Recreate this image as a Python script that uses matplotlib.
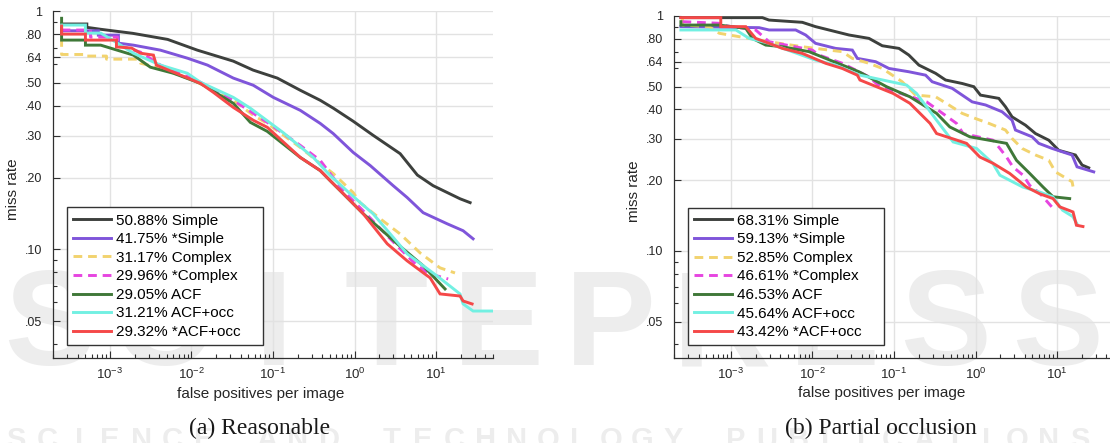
import numpy as np
import matplotlib
matplotlib.use("Agg")
import matplotlib.pyplot as plt
from matplotlib.ticker import FixedLocator, LogLocator, NullFormatter, LogFormatterMathtext

plt.rcParams['font.family'] = ['Liberation Sans', 'DejaVu Sans']
plt.rcParams['mathtext.default'] = 'regular'

#nomes dos detectores e log-average miss rate (%)
nomes = ['Simple', '*Simple', 'Complex', '*Complex', 'ACF', 'ACF+occ', '*ACF+occ']
lamr_a = [50.88, 41.75, 31.17, 29.96, 29.05, 31.21, 29.32]
lamr_b = [68.31, 59.13, 52.85, 46.61, 46.53, 45.64, 43.42]

#eixo y
yticks = [0.05, 0.10, 0.20, 0.30, 0.40, 0.50, 0.64, 0.80, 1.0]
yticklabels = ['.05', '.10', '.20', '.30', '.40', '.50', '.64', '.80', '1']
xticks = [1e-3, 1e-2, 1e-1, 1e0, 1e1]

#(a) Reasonable -- fppi / miss rate
fp_a_simple = [2.55e-4, 5.2e-4, 5.2e-4, 7.7e-4, 1.9e-3, 5.1e-3, 0.0118, 0.0326, 0.057, 0.113, 0.216, 0.38, 0.55, 0.96, 1.69, 3.63, 5.9, 9.2, 19.7, 26.2]
mr_a_simple = [0.882, 0.882, 0.854, 0.838, 0.806, 0.760, 0.685, 0.616, 0.565, 0.523, 0.465, 0.422, 0.391, 0.345, 0.301, 0.252, 0.205, 0.185, 0.163, 0.157]

fp_a_simple2 = [2.55e-4, 7.2e-4, 7.2e-4, 1.27e-3, 1.27e-3, 1.94e-3, 4.16e-3, 8.9e-3, 0.0157, 0.0326, 0.0573, 0.101, 0.216, 0.38, 0.548, 0.964, 1.56, 2.98, 4.42, 6.95, 13.7, 21.5, 28.5]
mr_a_simple2 = [0.826, 0.826, 0.792, 0.792, 0.733, 0.719, 0.685, 0.634, 0.593, 0.523, 0.488, 0.434, 0.383, 0.3375, 0.306, 0.255, 0.2246, 0.185, 0.165, 0.1425, 0.128, 0.1197, 0.1107]

fp_a_complex = [2.55e-4, 2.55e-4, 5.0e-4, 5.0e-4, 9.06e-4, 9.06e-4, 2.24e-3, 2.37e-3, 4.16e-3, 0.0105, 0.0326, 0.0573, 0.0851, 0.216, 0.38, 0.548, 0.964, 1.17, 2.07, 3.63, 6.38, 11.2, 17.1]
mr_a_complex = [0.770, 0.657, 0.657, 0.647, 0.647, 0.628, 0.628, 0.604, 0.575, 0.512, 0.422, 0.365, 0.3375, 0.2676, 0.229, 0.208, 0.173, 0.157, 0.1343, 0.116, 0.0966, 0.0836, 0.0796]

fp_a_complex2 = [2.55e-4, 5.77e-4, 5.77e-4, 1.24e-3, 1.24e-3, 2.37e-3, 4.16e-3, 0.0129, 0.0326, 0.0573, 0.0851, 0.216, 0.38, 0.727, 1.28, 2.74, 5.87, 8.47, 14.1]
mr_a_complex2 = [0.832, 0.832, 0.777, 0.777, 0.719, 0.672, 0.593, 0.502, 0.422, 0.372, 0.341, 0.273, 0.236, 0.176, 0.145, 0.1107, 0.0853, 0.0788, 0.0751]

fp_a_acf = [2.55e-4, 2.55e-4, 5.0e-4, 5.0e-4, 7.7e-4, 1.94e-3, 3.13e-3, 6.0e-3, 0.0129, 0.0326, 0.0527, 0.0851, 0.216, 0.38, 0.504, 1.28, 3.34, 6.95, 12.9]
mr_a_acf = [0.932, 0.755, 0.755, 0.719, 0.719, 0.653, 0.581, 0.548, 0.497, 0.410, 0.341, 0.3125, 0.243, 0.214, 0.194, 0.141, 0.1055, 0.0853, 0.0682]

fp_a_occ = [2.55e-4, 5.0e-4, 5.0e-4, 7.7e-4, 1.24e-3, 1.94e-3, 4.16e-3, 8.9e-3, 0.0129, 0.0326, 0.0527, 0.133, 0.312, 0.504, 0.886, 1.69, 4.42, 10.3, 19.7, 21.5, 28.5, 48.7]
mr_a_occ = [0.873, 0.873, 0.808, 0.808, 0.733, 0.665, 0.593, 0.548, 0.502, 0.434, 0.391, 0.309, 0.243, 0.204, 0.171, 0.141, 0.0958, 0.0773, 0.065, 0.059, 0.0551, 0.0551]

fp_a_occ2 = [2.55e-4, 2.55e-4, 5.0e-4, 5.0e-4, 1.2e-3, 1.2e-3, 1.84e-3, 2.37e-3, 3.41e-3, 3.71e-3, 6.0e-3, 0.0129, 0.0185, 0.0326, 0.0573, 0.0851, 0.216, 0.38, 0.504, 0.727, 1.28, 2.52, 4.42, 8.47, 11.2, 19.7, 21.5, 27.7]
mr_a_occ2 = [0.865, 0.800, 0.800, 0.755, 0.755, 0.707, 0.699, 0.665, 0.653, 0.593, 0.554, 0.497, 0.456, 0.394, 0.348, 0.325, 0.243, 0.214, 0.194, 0.1714, 0.141, 0.1055, 0.0895, 0.0759, 0.065, 0.0637, 0.0607, 0.059]

#(b) Partial occlusion -- fppi / miss rate
fp_b_simple = [2.43e-4, 2.43e-3, 2.93e-3, 7.5e-3, 0.0109, 0.0159, 0.0281, 0.0493, 0.0718, 0.115, 0.152, 0.202, 0.324, 0.429, 0.687, 0.954, 1.15, 1.93, 2.33, 2.81, 4.10, 5.44, 7.92, 10.5, 16.8, 20.3, 24.5]
mr_b_simple = [0.984, 0.984, 0.961, 0.940, 0.901, 0.872, 0.830, 0.803, 0.747, 0.728, 0.682, 0.618, 0.570, 0.534, 0.516, 0.500, 0.4605, 0.446, 0.411, 0.372, 0.343, 0.316, 0.296, 0.268, 0.256, 0.232, 0.2257]

fp_b_simple2 = [2.43e-4, 2.21e-3, 2.93e-3, 6.22e-3, 8.25e-3, 0.0109, 0.0192, 0.0308, 0.0355, 0.0595, 0.0867, 0.152, 0.244, 0.294, 0.518, 0.687, 0.91, 1.33, 2.12, 2.81, 3.09, 4.95, 5.97, 8.70, 15.3, 17.6, 28.2]
mr_b_simple2 = [0.901, 0.892, 0.872, 0.872, 0.830, 0.765, 0.728, 0.716, 0.660, 0.639, 0.598, 0.579, 0.560, 0.525, 0.492, 0.4605, 0.431, 0.418, 0.391, 0.360, 0.327, 0.306, 0.287, 0.273, 0.256, 0.228, 0.217]

fp_b_complex = [2.54e-4, 2.54e-4, 5.4e-4, 7.2e-4, 1.67e-3, 2.93e-3, 7.5e-3, 0.0159, 0.0232, 0.0308, 0.0493, 0.0718, 0.0953, 0.126, 0.184, 0.324, 0.471, 0.687, 1.0, 1.46, 2.33, 2.81, 3.73, 5.44, 7.92, 9.55, 15.3, 15.7]
mr_b_complex = [0.977, 0.915, 0.901, 0.844, 0.803, 0.777, 0.740, 0.716, 0.705, 0.660, 0.629, 0.598, 0.560, 0.525, 0.4605, 0.453, 0.418, 0.385, 0.366, 0.349, 0.327, 0.301, 0.273, 0.256, 0.243, 0.217, 0.197, 0.188]

fp_b_complex2 = [2.54e-4, 7.15e-4, 8.6e-4, 2.01e-3, 2.93e-3, 9.95e-3, 0.0120, 0.0232, 0.0492, 0.0672, 0.251, 0.585, 0.705, 1.64, 1.99, 2.40, 2.87, 3.83, 4.63, 6.14, 9.37]
mr_b_complex2 = [0.946, 0.931, 0.909, 0.872, 0.777, 0.716, 0.682, 0.629, 0.551, 0.500, 0.431, 0.349, 0.316, 0.296, 0.273, 0.251, 0.228, 0.210, 0.190, 0.176, 0.149]

fp_b_acf = [2.43e-4, 2.43e-4, 7.15e-4, 1.52e-3, 1.83e-3, 2.67e-3, 4.27e-3, 9.06e-3, 0.0145, 0.0372, 0.0811, 0.1566, 0.333, 0.484, 0.851, 2.40, 3.18, 4.63, 6.74, 8.93, 14.3]
mr_b_acf = [0.946, 0.915, 0.915, 0.886, 0.803, 0.752, 0.740, 0.705, 0.660, 0.579, 0.500, 0.453, 0.385, 0.337, 0.306, 0.287, 0.243, 0.2136, 0.187, 0.170, 0.167]

fp_b_occ = [2.43e-4, 1.15e-3, 1.67e-3, 2.93e-3, 0.0109, 0.0192, 0.0382, 0.1427, 0.189, 0.251, 0.333, 0.531, 1.03, 1.63, 1.99, 3.80, 6.14, 8.86, 11.7, 15.6, 17.9]
mr_b_occ = [0.872, 0.872, 0.803, 0.765, 0.649, 0.618, 0.560, 0.508, 0.468, 0.411, 0.360, 0.291, 0.273, 0.236, 0.210, 0.187, 0.178, 0.170, 0.149, 0.140, 0.129]

fp_b_occ2 = [2.43e-4, 7.5e-4, 7.5e-4, 1.52e-3, 2.01e-3, 2.93e-3, 4.27e-3, 7.5e-3, 0.0145, 0.0232, 0.0355, 0.0382, 0.0977, 0.1566, 0.277, 0.333, 0.776, 1.13, 1.64, 2.63, 4.22, 6.14, 8.93, 10.8, 15.7, 17.3, 20.8]
mr_b_occ2 = [0.984, 0.984, 0.901, 0.901, 0.803, 0.765, 0.728, 0.693, 0.629, 0.598, 0.560, 0.534, 0.468, 0.425, 0.349, 0.316, 0.287, 0.251, 0.236, 0.2136, 0.187, 0.175, 0.167, 0.154, 0.1465, 0.1286, 0.127]

#marca d'agua da editora (fundo)
marca = 'SCITEPRESS'
marca_rodape = 'SCIENCE AND TECHNOLOGY PUBLICATIONS'

#estilo de cada curva
cores = ['#3d403d', '#7f55da', '#f2d36e', '#e645e0', '#3f7838', '#72f0e2', '#f54848']
estilos = ['-', '-', (0, (3, 2)), (0, (3, 2)), '-', '-', '-']
cinza = '#303030'


def desenhaPainel(ax, curvas, taxas):

    #curvas miss rate x fppi
    for (fx, mr), taxa, nome, cor, estilo in zip(curvas, taxas, nomes, cores, estilos):
        ax.plot(fx, mr, color=cor, linestyle=estilo, lw=2.1,
                label='%.2f%% %s' % (taxa, nome), solid_joinstyle='miter')

    ax.set_xscale('log')
    ax.set_yscale('log')
    ax.set_xlim(2e-4, 50)
    ax.set_ylim(0.035, 1)
    ax.set_facecolor('none')

    #ticks
    ax.xaxis.set_major_locator(FixedLocator(xticks))
    ax.xaxis.set_major_formatter(LogFormatterMathtext())
    ax.xaxis.set_minor_locator(LogLocator(base=10, subs=np.arange(2, 10)))
    ax.xaxis.set_minor_formatter(NullFormatter())
    ax.yaxis.set_major_locator(FixedLocator(yticks))
    ax.set_yticklabels(yticklabels)
    ax.yaxis.set_minor_locator(LogLocator(base=10, subs=np.arange(2, 10)))
    ax.yaxis.set_minor_formatter(NullFormatter())
    ax.tick_params(which='both', direction='in', colors=cinza, labelcolor='#262626', width=0.8)
    ax.tick_params(which='major', length=5)
    ax.tick_params(which='minor', length=3)
    ax.tick_params(axis='y', pad=8, labelsize=9)
    ax.tick_params(axis='x', pad=6, labelsize=9.5)

    #grade
    ax.grid(True, which='major', color='#e2e2e2', lw=1.0)
    ax.set_axisbelow(True)
    for lado in ['top', 'right']:
        ax.spines[lado].set_visible(False)
    for lado in ['left', 'bottom']:
        ax.spines[lado].set_color(cinza)
        ax.spines[lado].set_linewidth(0.9)

    ax.set_xlabel('false positives per image', fontsize=11, color='#262626')
    ax.set_ylabel('miss rate', fontsize=11, color='#262626')
    ax.xaxis.set_label_coords(0.473, -0.083)
    ax.yaxis.set_label_coords(-0.075, 0.487)

    leg = ax.legend(loc='lower left', bbox_to_anchor=(0.031, 0.037, 196/440, 0.4), mode='expand',
                    borderaxespad=0, fontsize=11, fancybox=False, framealpha=1, edgecolor='#333333',
                    handlelength=2.5, handletextpad=0.3, labelspacing=0.3, borderpad=0.4)
    leg.get_frame().set_linewidth(1.0)

    return


curvas_a = [(fp_a_simple, mr_a_simple), (fp_a_simple2, mr_a_simple2), (fp_a_complex, mr_a_complex),
            (fp_a_complex2, mr_a_complex2), (fp_a_acf, mr_a_acf), (fp_a_occ, mr_a_occ), (fp_a_occ2, mr_a_occ2)]
curvas_b = [(fp_b_simple, mr_b_simple), (fp_b_simple2, mr_b_simple2), (fp_b_complex, mr_b_complex),
            (fp_b_complex2, mr_b_complex2), (fp_b_acf, mr_b_acf), (fp_b_occ, mr_b_occ), (fp_b_occ2, mr_b_occ2)]

fig = plt.figure(figsize=(11.1, 4.43), dpi=100)

#marca d'agua clara atras dos graficos
for i, letra in enumerate(marca):
    fig.text((50 + 112*i)/1110, 1 - 330/443, letra, ha='center', va='center', fontsize=98,
             fontweight='bold', color='#ededed', zorder=-5)
for i, letra in enumerate(marca_rodape):
    fig.text((16 + 31.3*i)/1110, 1 - 440/443, letra, ha='center', va='center', fontsize=21,
             fontweight='bold', color='#ededed', zorder=-5)

ax1 = fig.add_axes([53/1110, 85/443, 440/1110, 347/443])
ax2 = fig.add_axes([674/1110, 85/443, 440/1110, 342/443])

desenhaPainel(ax1, curvas_a, lamr_a)
desenhaPainel(ax2, curvas_b, lamr_b)

#legendas das figuras
fig.text(260/1110, 1 - 428/443, '(a) Reasonable', ha='center', va='center',
         family='Liberation Serif', fontsize=17, color='#1a1a1a')
fig.text(881/1110, 1 - 428/443, '(b) Partial occlusion', ha='center', va='center',
         family='Liberation Serif', fontsize=17, color='#1a1a1a')

fig.savefig('out.png', dpi=100)
